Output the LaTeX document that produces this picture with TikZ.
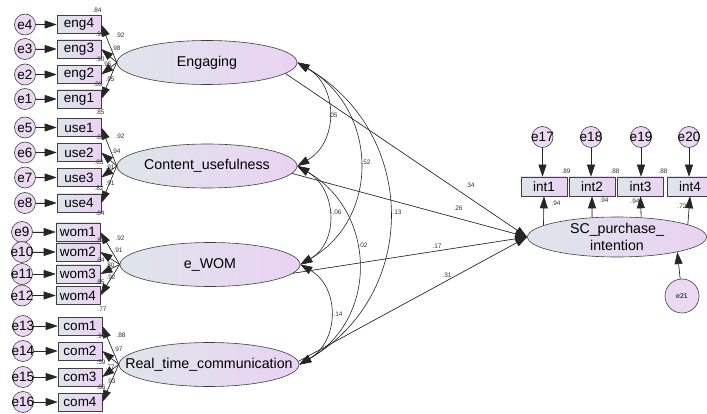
\documentclass[tikz,border=0pt]{standalone}
\usepackage{fontspec}
\setmainfont{Liberation Sans}
\usetikzlibrary{shapes.geometric,arrows.meta}
\definecolor{gL}{HTML}{DEE5EB}
\definecolor{gR}{HTML}{EAD2F3}
\definecolor{cF}{HTML}{EBD9F2}
\definecolor{bd}{HTML}{404040}
\tikzset{
  obs/.style={rectangle, draw=bd, line width=0.6pt, left color=gL, right color=gR,
    minimum width=44pt, minimum height=18pt, inner sep=0pt, font=\fontsize{13.5}{15}\selectfont},
  obsi/.style={obs, minimum width=46pt, minimum height=19pt},
  lat/.style={ellipse, draw=bd, line width=0.6pt, left color=gL, right color=gR,
    minimum width=180pt, minimum height=44pt, inner sep=0pt},
  lattext/.style={font=\fontsize{14.2}{16.5}\selectfont, inner sep=0pt, align=center},
  err/.style={circle, draw=bd, line width=0.6pt, fill=cF, minimum size=21pt, inner sep=0pt,
    label={[font=\fontsize{13.5}{15}\selectfont, inner sep=0pt]center:#1}},
  errs/.style={circle, draw=bd, line width=0.6pt, fill=cF, minimum size=34pt, inner sep=0pt,
    label={[font=\fontsize{7}{8}\selectfont, inner sep=0pt]center:#1}},
  num/.style={font=\fontsize{6.5}{7}\selectfont, inner sep=0pt, text=black!80},
  arr/.style={-{Triangle[length=12pt,width=8pt]}, line width=0.6pt, draw=black!85, fill=black},
  cov/.style={{Triangle[length=12pt,width=8pt]}-{Triangle[length=12pt,width=8pt]},
    line width=0.6pt, draw=black!85, out=-30, in=30, looseness=1.18},
}
\begin{document}
\begin{tikzpicture}[x=1pt,y=-1pt]
\path[fill=white, use as bounding box] (0,0) rectangle (707,414);

% observed indicators (left)
\foreach \n/\x/\y in {eng4/79/24.5, eng3/79/49, eng2/79/74.5, eng1/79/99,
  use1/79/127.5, use2/79/152.5, use3/79/177.5, use4/79/203,
  wom1/78/232, wom2/78/252, wom3/78/274, wom4/78/295.5,
  com1/80/326, com2/80/351, com3/80/377, com4/80/402}
  \node[obs] (\n) at (\x,\y) {\n};

% error terms (left)
\foreach \e/\x/\y in {e4/25/24.5, e3/25/49, e2/25/74.5, e1/25/99,
  e5/25/127.5, e6/25/152.5, e7/25/177.5, e8/25/203,
  e9/22/232, e10/22/252, e11/22/274, e12/22/295.5,
  e13/23/326, e14/23/351, e15/23/377, e16/23/402}
  \node[err=\e] (\e) at (\x,\y) {};

% latent variables
\node[lat] (eng) at (207,62.5) {};
\node[lattext] (engT) at (eng.center) {Engaging};
\node[lat] (cont) at (207,166) {};
\node[lattext] (contT) at (cont.center) {Content\_usefulness};
\node[lat] (ewom) at (210,264.5) {};
\node[lattext] (ewomT) at (ewom.center) {e\_WOM};
\node[lat] (rtc) at (209,364.5) {};
\node[lattext] (rtcT) at (rtc.center) {Real\_time\_communication};
\node[lat, minimum width=179pt, minimum height=40pt] (sc) at (617,237) {};
\node[lattext] (scT) at (sc.center) {SC\_purchase\_\\intention};

% right indicators
\foreach \n/\x in {int1/544, int2/592, int3/640.5, int4/690}
  \node[obsi] (\n) at (\x,186.5) {\n};
\foreach \e/\x in {e17/542.5, e18/591, e19/641, e20/689}
  \node[err=\e] (\e) at (\x,137) {};
\node[errs=e21] (e21) at (682,296) {};

% error arrows
\foreach \e/\b in {e4/eng4, e3/eng3, e2/eng2, e1/eng1, e5/use1, e6/use2, e7/use3, e8/use4,
  e9/wom1, e10/wom2, e11/wom3, e12/wom4, e13/com1, e14/com2, e15/com3, e16/com4}
  \draw[arr] (\e) -- (\b.west);
\foreach \e/\b in {e17/int1, e18/int2, e19/int3, e20/int4}
  \draw[arr] (\e) -- (\e |- \b.north);
\draw[arr] (e21) -- (sc.-14);

% loadings
\foreach \l/\b in {eng/eng4, eng/eng3, eng/eng2, eng/eng1,
  cont/use1, cont/use2, cont/use3, cont/use4,
  ewom/wom1, ewom/wom2, ewom/wom3, ewom/wom4,
  rtc/com1, rtc/com2, rtc/com3, rtc/com4}
  \draw[arr] (\l.west) -- (\b.east);
\draw[arr] (sc.171) -- (int1.south);
\draw[arr] (sc.142) -- (int2.south);
\draw[arr] (sc.39) -- (int3.south);
\draw[arr] (sc.10) -- (int4.south);

% structural paths
\draw[arr] (eng.-8) -- (sc.west);
\draw[arr] (cont.-5) -- (sc.west);
\draw[arr] (ewom.-6) -- (sc.west);
\draw[arr] (rtc.2) -- (sc.west);

% covariances
\draw[cov] (eng.east) to (cont.east);
\draw[cov] (eng.east) to (ewom.east);
\draw[cov] (eng.east) to (rtc.east);
\draw[cov] (cont.east) to (ewom.east);
\draw[cov] (cont.east) to (rtc.east);
\draw[cov] (ewom.east) to (rtc.east);

% squared multiple correlations (left)
\foreach \v/\x/\y in {.84/97/10, .96/100/34.5, .90/100/59.5, .89/98/84,
  .85/100/112, .88/100/137.5, .83/99/162.5, .82/99/188,
  .84/100/213, .83/100/240, .64/100/260.5, .85/100/282,
  .77/102/309, .94/101/336, .59/101/362, .86/101/387}
  \node[num] at (\x,\y) {\v};
% loadings values (left)
\foreach \v/\x/\y in {.92/120/35, .98/116/48, .95/107/64, .95/110/79,
  .92/120/136, .94/116/151, .91/110/167, .91/110/183,
  .92/120/238, .91/118/250, .80/110/265, .92/111/277,
  .88/121/335, .97/118/349, .77/110/367, .93/111/381}
  \node[num] at (\x,\y) {\v};
% right side values
\foreach \v/\x/\y in {.89/566/171, .88/615/171, .88/663/171,
  .94/556/203, .94/604/200, .94/635/201, .72/682/206,
  .34/470/185, .26/458/208, .17/437/246, .31/447/275,
  .05/333/115, .52/366/162, .13/397/212, -.06/336/212, .02/363/245, -.14/337/314}
  \node[num] at (\x,\y) {\v};
\end{tikzpicture}
\end{document}
